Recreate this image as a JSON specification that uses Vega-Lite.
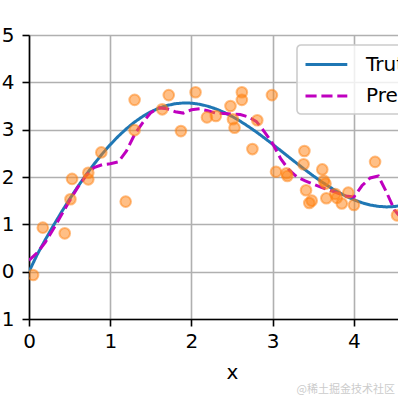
{
  "$schema": "https://vega.github.io/schema/vega-lite/v6.json",
  "width": 369,
  "height": 284,
  "autosize": {"type": "none"},
  "padding": {"left": 29, "top": 35, "right": 0, "bottom": 79},
  "background": "white",
  "title": {"text": "@稀土掘金技术社区", "orient": "bottom", "anchor": "end", "frame": "group", "fontSize": 11, "color": "#cccccc", "font": "Noto Sans CJK SC", "fontWeight": "normal", "offset": 2, "dx": -3},
  "config": {
    "font": "DejaVu Sans",
    "view": {"stroke": null},
    "axis": {
      "labelFont": "DejaVu Sans", "labelFontSize": 20, "labelColor": "black",
      "titleFont": "DejaVu Sans", "titleFontSize": 20, "titleFontWeight": "normal", "titleColor": "black",
      "domainColor": "black", "domainWidth": 1.6,
      "tickColor": "black", "tickWidth": 1.6, "tickSize": 7,
      "gridColor": "#b0b0b0", "gridWidth": 1.6, "gridOpacity": 1
    },
    "legend": {
      "orient": "none", "legendX": 268, "legendY": 10,
      "labelFont": "DejaVu Sans", "labelFontSize": 20, "labelColor": "black",
      "fillColor": "rgba(255,255,255,0.8)", "strokeColor": "#cccccc", "strokeWidth": 1.6,
      "cornerRadius": 4, "padding": 7, "rowPadding": 8.6,
      "symbolType": "M-1,0H2.8", "symbolSize": 484, "symbolStrokeWidth": 3,
      "labelOffset": 37
    }
  },
  "datasets": {
    "curves": [
      {"x": 0.0, "y": 0.0, "series": "Truth"},
      {"x": 0.1, "y": 0.358, "series": "Truth"},
      {"x": 0.2, "y": 0.673, "series": "Truth"},
      {"x": 0.3, "y": 0.973, "series": "Truth"},
      {"x": 0.4, "y": 1.259, "series": "Truth"},
      {"x": 0.5, "y": 1.533, "series": "Truth"},
      {"x": 0.6, "y": 1.794, "series": "Truth"},
      {"x": 0.7, "y": 2.040, "series": "Truth"},
      {"x": 0.8, "y": 2.271, "series": "Truth"},
      {"x": 0.9, "y": 2.486, "series": "Truth"},
      {"x": 1.0, "y": 2.683, "series": "Truth"},
      {"x": 1.1, "y": 2.862, "series": "Truth"},
      {"x": 1.2, "y": 3.021, "series": "Truth"},
      {"x": 1.3, "y": 3.161, "series": "Truth"},
      {"x": 1.4, "y": 3.280, "series": "Truth"},
      {"x": 1.5, "y": 3.378, "series": "Truth"},
      {"x": 1.6, "y": 3.456, "series": "Truth"},
      {"x": 1.7, "y": 3.512, "series": "Truth"},
      {"x": 1.8, "y": 3.548, "series": "Truth"},
      {"x": 1.9, "y": 3.564, "series": "Truth"},
      {"x": 2.0, "y": 3.560, "series": "Truth"},
      {"x": 2.1, "y": 3.537, "series": "Truth"},
      {"x": 2.2, "y": 3.496, "series": "Truth"},
      {"x": 2.3, "y": 3.439, "series": "Truth"},
      {"x": 2.4, "y": 3.366, "series": "Truth"},
      {"x": 2.5, "y": 3.278, "series": "Truth"},
      {"x": 2.6, "y": 3.179, "series": "Truth"},
      {"x": 2.7, "y": 3.068, "series": "Truth"},
      {"x": 2.8, "y": 2.949, "series": "Truth"},
      {"x": 2.9, "y": 2.822, "series": "Truth"},
      {"x": 3.0, "y": 2.690, "series": "Truth"},
      {"x": 3.1, "y": 2.555, "series": "Truth"},
      {"x": 3.2, "y": 2.419, "series": "Truth"},
      {"x": 3.3, "y": 2.284, "series": "Truth"},
      {"x": 3.4, "y": 2.151, "series": "Truth"},
      {"x": 3.5, "y": 2.023, "series": "Truth"},
      {"x": 3.6, "y": 1.901, "series": "Truth"},
      {"x": 3.7, "y": 1.788, "series": "Truth"},
      {"x": 3.8, "y": 1.686, "series": "Truth"},
      {"x": 3.9, "y": 1.595, "series": "Truth"},
      {"x": 4.0, "y": 1.518, "series": "Truth"},
      {"x": 4.1, "y": 1.455, "series": "Truth"},
      {"x": 4.2, "y": 1.409, "series": "Truth"},
      {"x": 4.3, "y": 1.380, "series": "Truth"},
      {"x": 4.4, "y": 1.368, "series": "Truth"},
      {"x": 4.5, "y": 1.376, "series": "Truth"},
      {"x": 4.6, "y": 1.403, "series": "Truth"},
      {"x": 0.0, "y": 0.24, "series": "Pred"},
      {"x": 0.1, "y": 0.40, "series": "Pred"},
      {"x": 0.2, "y": 0.62, "series": "Pred"},
      {"x": 0.3, "y": 0.90, "series": "Pred"},
      {"x": 0.4, "y": 1.20, "series": "Pred"},
      {"x": 0.5, "y": 1.50, "series": "Pred"},
      {"x": 0.6, "y": 1.78, "series": "Pred"},
      {"x": 0.7, "y": 2.02, "series": "Pred"},
      {"x": 0.8, "y": 2.20, "series": "Pred"},
      {"x": 0.9, "y": 2.26, "series": "Pred"},
      {"x": 1.0, "y": 2.28, "series": "Pred"},
      {"x": 1.1, "y": 2.32, "series": "Pred"},
      {"x": 1.2, "y": 2.55, "series": "Pred"},
      {"x": 1.3, "y": 2.90, "series": "Pred"},
      {"x": 1.4, "y": 3.15, "series": "Pred"},
      {"x": 1.5, "y": 3.36, "series": "Pred"},
      {"x": 1.6, "y": 3.46, "series": "Pred"},
      {"x": 1.7, "y": 3.44, "series": "Pred"},
      {"x": 1.8, "y": 3.38, "series": "Pred"},
      {"x": 1.9, "y": 3.35, "series": "Pred"},
      {"x": 2.0, "y": 3.42, "series": "Pred"},
      {"x": 2.1, "y": 3.44, "series": "Pred"},
      {"x": 2.2, "y": 3.40, "series": "Pred"},
      {"x": 2.3, "y": 3.35, "series": "Pred"},
      {"x": 2.4, "y": 3.34, "series": "Pred"},
      {"x": 2.5, "y": 3.33, "series": "Pred"},
      {"x": 2.6, "y": 3.32, "series": "Pred"},
      {"x": 2.7, "y": 3.27, "series": "Pred"},
      {"x": 2.8, "y": 3.17, "series": "Pred"},
      {"x": 2.9, "y": 2.95, "series": "Pred"},
      {"x": 3.0, "y": 2.70, "series": "Pred"},
      {"x": 3.1, "y": 2.38, "series": "Pred"},
      {"x": 3.2, "y": 2.15, "series": "Pred"},
      {"x": 3.3, "y": 2.00, "series": "Pred"},
      {"x": 3.4, "y": 1.92, "series": "Pred"},
      {"x": 3.5, "y": 1.85, "series": "Pred"},
      {"x": 3.6, "y": 1.78, "series": "Pred"},
      {"x": 3.7, "y": 1.72, "series": "Pred"},
      {"x": 3.8, "y": 1.66, "series": "Pred"},
      {"x": 3.9, "y": 1.60, "series": "Pred"},
      {"x": 4.0, "y": 1.58, "series": "Pred"},
      {"x": 4.1, "y": 1.82, "series": "Pred"},
      {"x": 4.2, "y": 1.98, "series": "Pred"},
      {"x": 4.3, "y": 2.02, "series": "Pred"},
      {"x": 4.4, "y": 1.68, "series": "Pred"},
      {"x": 4.5, "y": 1.30, "series": "Pred"},
      {"x": 4.6, "y": 1.10, "series": "Pred"}
    ],
    "points": [
      {"x": 0.05, "y": -0.07}, {"x": 0.17, "y": 0.93}, {"x": 0.44, "y": 0.81}, {"x": 0.51, "y": 1.53},
      {"x": 0.53, "y": 1.96}, {"x": 0.73, "y": 1.95}, {"x": 0.73, "y": 2.09}, {"x": 0.89, "y": 2.52},
      {"x": 1.19, "y": 1.48}, {"x": 1.30, "y": 3.63}, {"x": 1.30, "y": 2.99}, {"x": 1.64, "y": 3.43},
      {"x": 1.72, "y": 3.73}, {"x": 1.87, "y": 2.97}, {"x": 2.05, "y": 3.79}, {"x": 2.19, "y": 3.26},
      {"x": 2.30, "y": 3.29}, {"x": 2.48, "y": 3.50}, {"x": 2.62, "y": 3.79}, {"x": 2.62, "y": 3.63},
      {"x": 2.51, "y": 3.22}, {"x": 2.53, "y": 3.04}, {"x": 2.81, "y": 3.20}, {"x": 2.75, "y": 2.59},
      {"x": 2.99, "y": 3.73}, {"x": 3.04, "y": 2.11}, {"x": 3.18, "y": 2.02}, {"x": 3.17, "y": 2.08},
      {"x": 3.39, "y": 2.55}, {"x": 3.38, "y": 2.27}, {"x": 3.41, "y": 1.72}, {"x": 3.45, "y": 1.45},
      {"x": 3.48, "y": 1.50}, {"x": 3.61, "y": 2.16}, {"x": 3.63, "y": 1.92}, {"x": 3.65, "y": 1.86},
      {"x": 3.66, "y": 1.55}, {"x": 3.77, "y": 1.64}, {"x": 3.79, "y": 1.56}, {"x": 3.85, "y": 1.44},
      {"x": 3.93, "y": 1.67}, {"x": 4.00, "y": 1.41}, {"x": 4.26, "y": 2.32}, {"x": 4.53, "y": 1.19}
    ]
  },
  "encoding": {
    "x": {"field": "x", "type": "quantitative", "scale": {"domain": [0, 4.542], "nice": false, "zero": false},
      "axis": {"values": [0, 1, 2, 3, 4], "title": "x", "labelPadding": 5, "titleX": 203, "titleY": 59, "titleBaseline": "alphabetic", "titleAlign": "center", "labelFlush": false}},
    "y": {"field": "y", "type": "quantitative", "scale": {"domain": [-1, 5], "nice": false, "zero": false},
      "axis": {"values": [-1, 0, 1, 2, 3, 4, 5], "title": null, "labelPadding": 8, "labelFlush": false}}
  },
  "layer": [
    {
      "data": {"name": "curves"},
      "mark": {"type": "line", "strokeWidth": 3, "clip": true},
      "encoding": {
        "color": {"field": "series", "type": "nominal", "scale": {"domain": ["Truth", "Pred"], "range": ["#1f77b4", "#bf00bf"]}, "legend": {"title": null}},
        "strokeDash": {"field": "series", "type": "nominal", "scale": {"domain": ["Truth", "Pred"], "range": [[1, 0], [11.1, 4.8]]}, "legend": {"title": null}}
      }
    },
    {
      "data": {"name": "points"},
      "mark": {"type": "circle", "size": 113, "fill": "#ff7f0e", "stroke": "#ff7f0e", "strokeWidth": 2, "fillOpacity": 0.5, "strokeOpacity": 0.5, "opacity": 1, "clip": true}
    },
    {
      "data": {"values": [{}]},
      "mark": {"type": "rule", "color": "black", "strokeWidth": 1.6},
      "encoding": {"y": {"datum": 5}, "x": null}
    }
  ]
}
